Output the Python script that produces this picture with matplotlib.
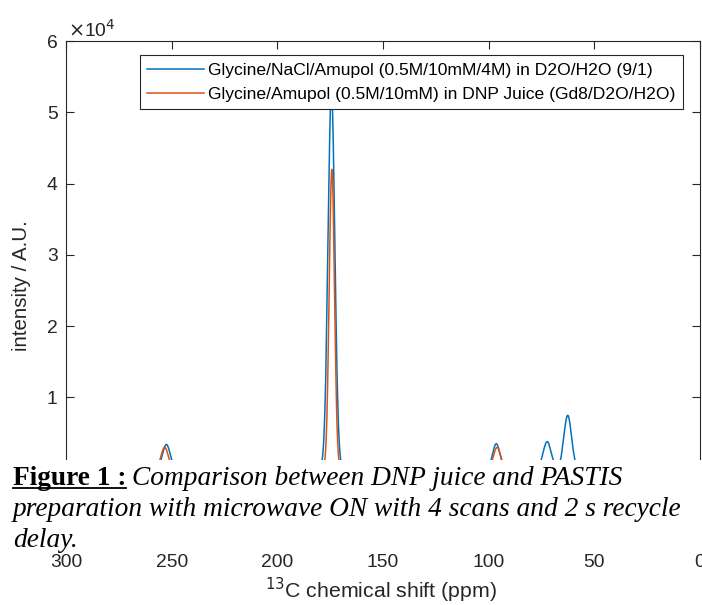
import numpy as np
import matplotlib
matplotlib.use("Agg")
import matplotlib.pyplot as plt
from matplotlib.patches import Rectangle
from matplotlib.lines import Line2D

# ---------------- data ----------------
series_labels = [
    "Glycine/NaCl/Amupol (0.5M/10mM/4M) in D2O/H2O (9/1)",
    "Glycine/Amupol (0.5M/10mM) in DNP Juice (Gd8/D2O/H2O)",
]
# peak centres (ppm), heights (A.U.) and widths (sigma, ppm) of each spectrum
blue_pos = [252.5, 174.4, 96.4, 72.3, 62.6]
blue_height = [3400, 53000, 3500, 3800, 7500]
blue_width = [1.8, 1.6, 1.7, 1.9, 1.8]
orange_pos = [253.3, 174.2, 96.0]
orange_height = [3000, 42000, 3000]
orange_width = [1.7, 1.25, 1.7]

xticks = [300, 250, 200, 150, 100, 50, 0]
yticks = [1e4, 2e4, 3e4, 4e4, 5e4, 6e4]
ytick_labels = ["1", "2", "3", "4", "5", "6"]

caption_bold = "Figure 1 :"
caption_lines = [
    "Comparison between DNP juice and PASTIS",
    "preparation with microwave ON with 4 scans and 2 s recycle",
    "delay.",
]

# ---------------- figure ----------------
W, H = 702, 605
fig = plt.figure(figsize=(W / 100, H / 100), dpi=100)
fig.patch.set_facecolor("white")

def fx(x):
    return x / W

def fy(y):
    return 1 - y / H

ax_l, ax_r, ax_t, ax_b = 66, 700, 41, 540
ax = fig.add_axes([fx(ax_l), fy(ax_b), (ax_r - ax_l) / W, (ax_b - ax_t) / H])

sans = "Liberation Sans"
dark = "#262626"

ppm = np.linspace(0, 300, 12001)

def spectrum(pos, hts, wid):
    y = np.zeros_like(ppm)
    for p, h, w in zip(pos, hts, wid):
        y += h * np.exp(-0.5 * ((ppm - p) / w) ** 2)
    return y

blue = "#0072BD"
orange = "#D95319"
ax.plot(ppm, spectrum(blue_pos, blue_height, blue_width), color=blue, lw=1.1,
        label=series_labels[0])
ax.plot(ppm, spectrum(orange_pos, orange_height, orange_width), color=orange, lw=1.1,
        label=series_labels[1])

ax.set_xlim(300, 0)
ax.set_ylim(-1e4, 6e4)
ax.set_xticks(xticks)
ax.set_xticklabels([str(t) for t in xticks])
ax.set_yticks(yticks)
ax.set_yticklabels(ytick_labels)

for s in ax.spines.values():
    s.set_color(dark)
    s.set_linewidth(0.8)
ax.tick_params(direction="in", length=6, width=0.8, color=dark,
               top=True, right=True, labelsize=13.9, labelcolor=dark)
ax.tick_params(axis="x", pad=10)
ax.tick_params(axis="y", pad=6)
for lab in ax.get_xticklabels() + ax.get_yticklabels():
    lab.set_fontfamily(sans)

fig.text(fx(68), fy(30), r"$\times$10$^{4}$", fontsize=13.9, color=dark,
         family=sans, ha="left", va="center")

fig.text(fx(22), fy(286), "intensity / A.U.", rotation=90, fontsize=14.8,
         color=dark, family=sans, ha="center", va="center")
fig.text(fx(381), fy(590), r"$^{13}$C chemical shift (ppm)", fontsize=15.3,
         color=dark, family=sans, ha="center", va="center")

leg = ax.legend(loc="upper right", bbox_to_anchor=(fx(683), fy(55)),
                bbox_transform=fig.transFigure, borderaxespad=0,
                fancybox=False, framealpha=1, edgecolor=dark,
                prop={"family": sans, "size": 12.6},
                handlelength=3.25, handletextpad=0.2, labelspacing=0.49,
                borderpad=0.44)
leg.get_frame().set_linewidth(0.8)
for t in leg.get_texts():
    t.set_color("black")

# ---------------- caption box overlapping the figure ----------------
fig.patches.append(Rectangle((0, fy(550)), 1, fy(460) - fy(550),
                             transform=fig.transFigure, facecolor="white",
                             edgecolor="none", zorder=5))

serif = "Liberation Serif"
cap_fs = 19.7
baselines = [485, 516, 547]
fig.canvas.draw()
renderer = fig.canvas.get_renderer()

tb = fig.text(fx(13), fy(baselines[0]), caption_bold, fontsize=cap_fs, family=serif,
              weight="bold", color="black", ha="left", va="baseline", zorder=6)
bb = tb.get_window_extent(renderer)
x_end = bb.x1
fig.add_artist(Line2D([fx(13), x_end / W], [fy(baselines[0] + 3)] * 2,
                      transform=fig.transFigure, color="black", lw=1.3, zorder=6))
fig.text(x_end / W + fx(6), fy(baselines[0]), caption_lines[0], fontsize=cap_fs,
         family=serif, style="italic", color="black", ha="left", va="baseline", zorder=6)
for line, b in zip(caption_lines[1:], baselines[1:]):
    fig.text(fx(13), fy(b), line, fontsize=cap_fs, family=serif, style="italic",
             color="black", ha="left", va="baseline", zorder=6)

fig.savefig("out.png", dpi=100, facecolor="white")
